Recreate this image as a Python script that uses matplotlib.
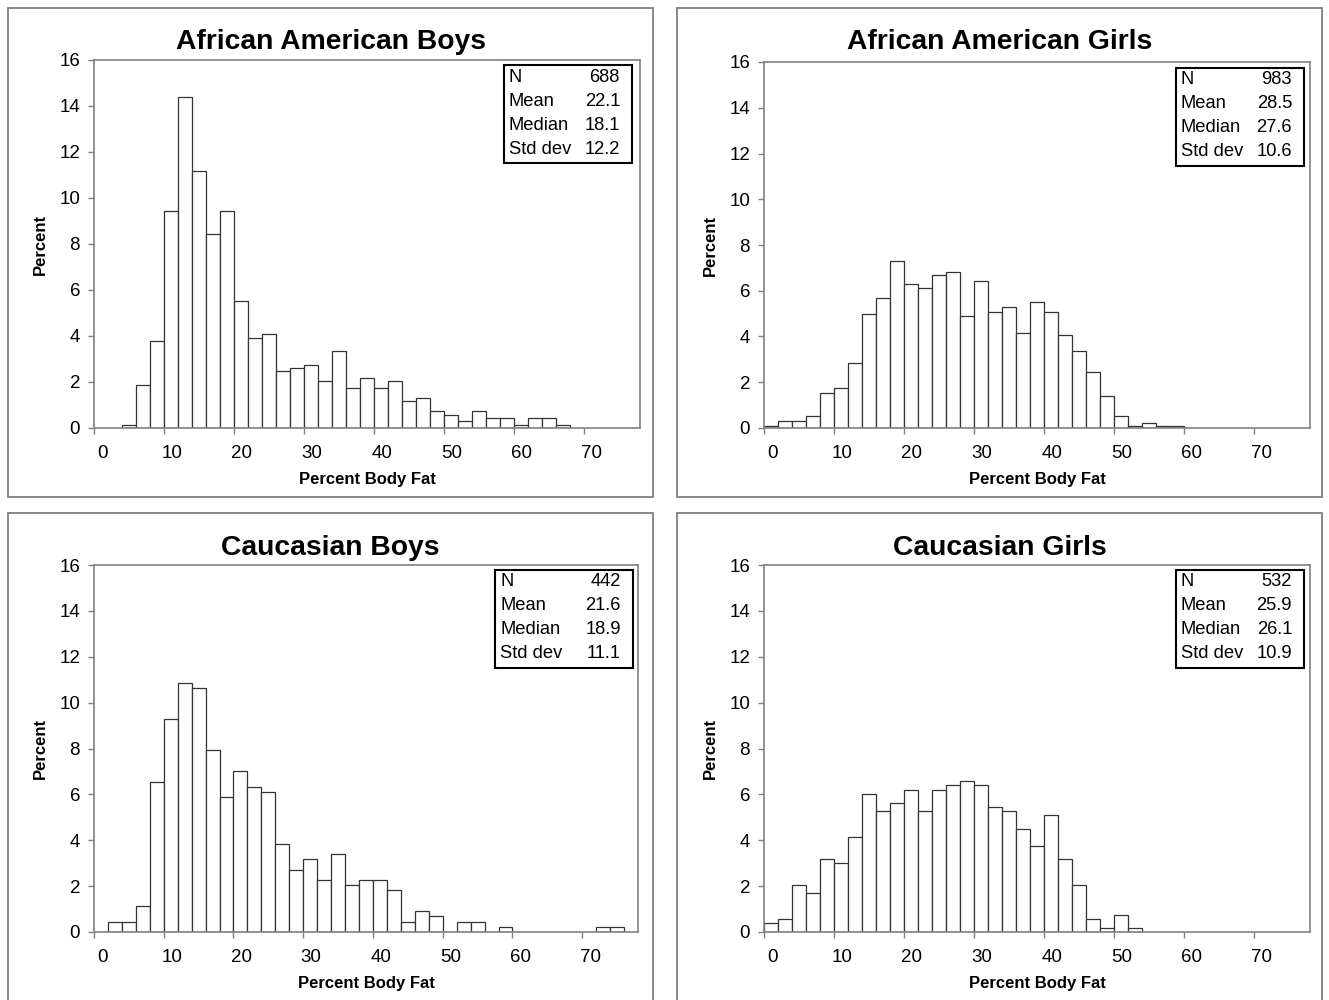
import numpy as np
import matplotlib
matplotlib.use('Agg')
import matplotlib.pyplot as plt
from matplotlib.patches import Rectangle
import matplotlib.transforms as mtransforms

plt.rcParams['font.family'] = ['Liberation Sans', 'DejaVu Sans']

# percent of children per 2-unit body fat bin, starting at 0
aa_boys = [0, 0, 0.15, 1.89, 3.78, 9.45, 14.39, 11.19, 8.43, 9.45, 5.52, 3.92,
           4.07, 2.47, 2.62, 2.76, 2.03, 3.34, 1.74, 2.18, 1.74, 2.03, 1.16,
           1.31, 0.73, 0.58, 0.29, 0.73, 0.44, 0.44, 0.15, 0.44, 0.44, 0.15]
aa_girls = [0.10, 0.31, 0.31, 0.51, 1.53, 1.73, 2.85, 4.98, 5.70, 7.32, 6.31,
            6.10, 6.71, 6.82, 4.88, 6.41, 5.09, 5.29, 4.17, 5.49, 5.09, 4.07,
            3.36, 2.44, 1.42, 0.51, 0.10, 0.20, 0.10, 0.10]
c_boys = [0, 0.45, 0.45, 1.13, 6.56, 9.28, 10.86, 10.63, 7.92, 5.88, 7.01,
          6.33, 6.11, 3.85, 2.71, 3.17, 2.26, 3.39, 2.04, 2.26, 2.26, 1.81,
          0.45, 0.90, 0.68, 0, 0.45, 0.45, 0, 0.23, 0, 0, 0, 0, 0, 0, 0.23, 0.23]
c_girls = [0.38, 0.56, 2.07, 1.69, 3.20, 3.01, 4.14, 6.02, 5.26, 5.64, 6.20,
           5.26, 6.20, 6.39, 6.58, 6.39, 5.45, 5.26, 4.51, 3.76, 5.08, 3.20,
           2.07, 0.56, 0.19, 0.75, 0.19]

titles = ['African American Boys', 'African American Girls', 'Caucasian Boys', 'Caucasian Girls']
series = [aa_boys, aa_girls, c_boys, c_girls]
stat_names = ['N', 'Mean', 'Median', 'Std dev']
stat_vals = [['688', '22.1', '18.1', '12.2'],
             ['983', '28.5', '27.6', '10.6'],
             ['442', '21.6', '18.9', '11.1'],
             ['532', '25.9', '26.1', '10.9']]

W, H = 1329, 1000
fig = plt.figure(figsize=(W / 100, H / 100), dpi=100)

# layout in pixels: axes (left, right, top, bottom), panel frame (x0, x1, y0, y1), stats box (x0, x1, y0, y1)
axes_px = [(94, 640, 60, 428), (764, 1310, 62, 428), (94, 638, 565, 932), (764, 1310, 565, 932)]
frame_px = [(8, 653, 8, 497), (677, 1322, 8, 497), (8, 653, 513, 1010), (677, 1322, 513, 1010)]
box_px = [(504, 632, 65, 163), (1176, 1304, 68, 166), (495, 633, 570, 668), (1176, 1304, 570, 668)]
title_y = [42, 42, 548, 548]

gray = '#808080'
shift = mtransforms.ScaledTranslation(8 / 100, 0, fig.dpi_scale_trans)

for i in range(4):
    fx0, fx1, fy0, fy1 = frame_px[i]
    fig.patches.append(Rectangle((fx0 / W, 1 - fy1 / H), (fx1 - fx0) / W, (fy1 - fy0) / H,
                                 transform=fig.transFigure, fill=False, edgecolor=gray, lw=1.3))
    fig.text((fx0 + fx1) / 2 / W, 1 - title_y[i] / H, titles[i], ha='center', va='center',
             fontsize=20.3, fontweight='bold')

    l, r, t, b = axes_px[i]
    ax = fig.add_axes([l / W, 1 - b / H, (r - l) / W, (b - t) / H])
    vals = np.array(series[i])
    edges = np.arange(len(vals)) * 2
    m = vals > 0
    ax.bar(edges[m], vals[m], width=2, align='edge', facecolor='white', edgecolor='#333333', lw=0.9)
    ax.set_xlim(0, 78)
    ax.set_ylim(0, 16)
    ax.set_xticks(range(0, 71, 10))
    ax.set_yticks(range(0, 17, 2))
    for s in ax.spines.values():
        s.set_color(gray)
        s.set_linewidth(1.2)
    ax.tick_params(axis='both', direction='out', length=4, width=1, color=gray, labelsize=13.5)
    ax.tick_params(axis='x', pad=8)
    ax.tick_params(axis='y', pad=6)
    for lab in ax.get_xticklabels():
        lab.set_transform(lab.get_transform() + shift)

    ax.text(0.5, -0.141, 'Percent Body Fat', transform=ax.transAxes, ha='center', va='center',
            fontsize=12, fontweight='bold')
    ax.text(-0.099, 0.5, 'Percent', transform=ax.transAxes, ha='center', va='center',
            rotation=90, fontsize=12, fontweight='bold')

    bx0, bx1, by0, by1 = box_px[i]
    fig.patches.append(Rectangle((bx0 / W, 1 - by1 / H), (bx1 - bx0) / W, (by1 - by0) / H,
                                 transform=fig.transFigure, fill=False, edgecolor='black', lw=1.5))
    for k in range(4):
        yy = 1 - (by0 + 12 + 24 * k) / H
        fig.text((bx0 + 5) / W, yy, stat_names[k], ha='left', va='center', fontsize=13.2)
        fig.text((bx1 - 12) / W, yy, stat_vals[i][k], ha='right', va='center', fontsize=13.2)

fig.savefig('out.png', dpi=100)
